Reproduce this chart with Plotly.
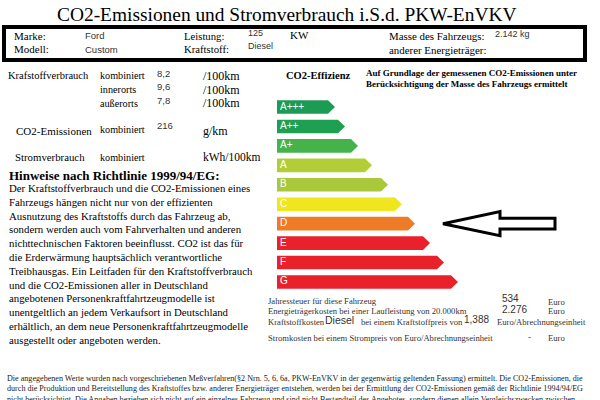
import plotly.graph_objs as go

# vehicle data
brand = "Ford"
model = "Custom"
power_kw = "125"
fuel_type = "Diesel"
mass = "2.142 kg"

consumption_labels = ["kombiniert", "innerorts", "außerorts"]
consumption_values = ["8,2", "9,6", "7,8"]
co2_value = "216"

classes = ["A+++", "A++", "A+", "A", "B", "C", "D", "E", "F", "G"]
bar_lengths = [51, 61, 74, 88, 104, 118, 131, 146, 160, 174]
selected_class = "D"

tax = "534"
energy_cost = "2.276"
fuel_price = "1,388"

colors = ["#1c9b55", "#1f9f52", "#45b34a", "#b3cd38", "#a9c83a",
          "#efe61f", "#ee7b26", "#e8212b", "#e8212b", "#e8212b"]

SERIF = "Liberation Serif, Times New Roman, serif"
SANS = "Liberation Sans, Arial, sans-serif"


def px(x, y):
    return x / 600, 1 - y / 400


def txt(x, y, s, size=11, font=SERIF, color="black", anchor="left", bold=False):
    xx, yy = px(x, y)
    if bold:
        s = "<b>" + s + "</b>"
    return dict(x=xx, y=yy, xref="paper", yref="paper", text=s, showarrow=False,
                xanchor=anchor, yanchor="middle", borderpad=0,
                font=dict(family=font, size=size, color=color))


fig = go.Figure()

# label bars with arrow tips
half = 0.35
tip = 7
for i, (c, L) in enumerate(zip(classes, bar_lengths)):
    fig.add_trace(go.Scatter(
        x=[0, L, L + tip, L, 0, 0],
        y=[i - half, i - half, i, i + half, i + half, i - half],
        fill="toself", fillcolor=colors[i], mode="lines",
        line=dict(width=0, color=colors[i]), hoverinfo="skip", showlegend=False))

fig.add_trace(go.Scatter(
    x=[3] * len(classes), y=list(range(len(classes))), text=classes, mode="text",
    textposition="middle right", textfont=dict(family=SANS, size=10, color="white"),
    hoverinfo="skip", showlegend=False))

# pointer arrow to the selected class
k = classes.index(selected_class)
fig.add_shape(type="path",
              path=f"M166,{k} L223,{k - 0.62} L223,{k - 0.28} L278,{k - 0.28} "
                   f"L278,{k + 0.28} L223,{k + 0.28} L223,{k + 0.62} Z",
              xref="x", yref="y", line=dict(color="black", width=3), fillcolor="white")

ann = []
ann.append(txt(286, 14, "CO2-Emissionen und Stromverbrauch i.S.d. PKW-EnVKV", size=19.4, anchor="center"))

# header box
ann += [
    txt(13, 36, "Marke:"), txt(13, 49, "Modell:"),
    txt(84, 36, brand, size=9.5, font=SANS, color="#333"),
    txt(84, 49, model, size=9.5, font=SANS, color="#333"),
    txt(183, 36, "Leistung:", size=10.7), txt(183, 49, "Kraftstoff:", size=10.7),
    txt(247, 33, power_kw, size=9, font=SANS, color="#333"),
    txt(247, 46, fuel_type, size=9, font=SANS, color="#333"),
    txt(289, 35, "KW"),
    txt(388, 36, "Masse des Fahrzeugs:", size=10.9), txt(388, 50, "anderer Energieträger:", size=10.9),
    txt(494, 34, mass, size=9, font=SANS, color="#333"),
]

# consumption block
ann.append(txt(7, 76, "Krafstoffverbrauch", size=10.5))
for j, (lab, val) in enumerate(zip(consumption_labels, consumption_values)):
    y = 76 + 13.5 * j
    ann.append(txt(99, y, lab, size=10.2))
    ann.append(txt(156, y - 3, val, size=9.5, font=SANS, color="#333"))
    ann.append(txt(202, y, "/100km", size=12))
ann += [
    txt(15, 131, "CO2-Emissionen", size=11), txt(99, 130, "kombiniert", size=10.2),
    txt(156, 125, co2_value, size=9.5, font=SANS, color="#333"), txt(202, 131, "g/km", size=12),
    txt(14, 157, "Stromverbrauch", size=10.8), txt(99, 157, "kombiniert", size=10.2),
    txt(202, 157, "kWh/100km", size=11.5),
]

# notes
ann.append(txt(8, 176, "Hinweise nach Richtlinie 1999/94/EG:", size=13, bold=True))
notes = [
    "Der Kraftstoffverbrauch und die CO2-Emissionen eines",
    "Fahrzeugs hängen nicht nur von der effizienten",
    "Ausnutzung des Kraftstoffs durch das Fahrzeug ab,",
    "sondern werden auch vom Fahrverhalten und anderen",
    "nichttechnischen Faktoren beeinflusst. CO2 ist das für",
    "die Erderwärmung hauptsächlich verantwortliche",
    "Treibhausgas. Ein Leitfaden für den Kraftstoffverbrauch",
    "und die CO2-Emissionen aller in Deutschland",
    "angebotenen Personenkraftfahrtzeugmodelle ist",
    "unentgeltlich an jedem Verkaufsort in Deutschland",
    "erhältlich, an dem neue Personenkraftfahrtzeugmodelle",
    "ausgestellt oder angeboten werden.",
]
for j, line in enumerate(notes):
    ann.append(txt(8, 188 + 13.8 * j, line, size=10.8))

# efficiency header
ann.append(txt(285, 75, "CO2-Effizienz", size=10.5, bold=True))
ann.append(txt(365, 73, "Auf Grundlage der gemessenen CO2-Emissionen unter", size=9, bold=True))
ann.append(txt(365, 84, "Berücksichtigung der Masse des Fahrzeugs ermittelt", size=9, bold=True))

# costs
small = 8.6
ann += [
    txt(267, 301, "Jahressteuer für diese Fahrzeug", size=small, color="#333"),
    txt(501, 298, tax, size=10, font=SANS, color="#333"), txt(547, 302, "Euro", size=small, color="#333"),
    txt(267, 311, "Energieträgerkosten bei einer Laufleistung von 20.000km", size=small, color="#333"),
    txt(501, 309, energy_cost, size=10, font=SANS, color="#333"), txt(547, 311, "Euro", size=small, color="#333"),
    txt(267, 322, "Kraftstoffkosten", size=small, color="#333"),
    txt(360, 322, "bei einem Kraftstoffpreis von", size=small, color="#333"),
    txt(496, 322, "Euro/Abrechnungseinheit", size=small, color="#333"),
    txt(324, 320, fuel_type, size=10.5, font=SANS, color="#333"),
    txt(463, 319, fuel_price, size=10, font=SANS, color="#333"),
    txt(267, 338, "Stromkosten bei einem Strompreis von Euro/Abrechnungseinheit", size=small, color="#333"),
    txt(527, 337, "-", size=9, color="#333"), txt(547, 338, "Euro", size=small, color="#333"),
]

footer = [
    "Die angegebenen Werte wurden nach vorgeschriebenen Meßverfahren(§2 Nrn. 5, 6, 6a, PKW-EnVKV in der gegenwärtig geltenden Fassung) ermittelt. Die CO2-Emissionen, die",
    "durch die Produktion und Bereitstellung des Kraftstoffes bzw. anderer Energieträger entstehen, werden bei der Ermittlung der CO2-Emissionen gemäß der Richtlinie 1994/94/EG",
    "nicht berücksichtigt. Die Angaben beziehen sich nicht auf ein einzelnes Fahrzeug und sind nicht Bestandteil des Angebotes, sondern dienen allein Vergleichszwecken zwischen",
]
for j, line in enumerate(footer):
    ann.append(txt(6, 378 + 10.5 * j, line, size=8.1, color="#222"))

# box around vehicle data
x0, y0 = px(4, 27)
x1, y1 = px(585, 60)
fig.add_shape(type="rect", xref="paper", yref="paper", x0=x0, y0=y1, x1=x1, y1=y0,
              line=dict(color="black", width=4))

fig.update_layout(
    width=600, height=400, margin=dict(l=0, r=0, t=0, b=0),
    paper_bgcolor="white", plot_bgcolor="white",
    annotations=ann,
    xaxis=dict(domain=[277 / 600, 1], range=[0, 323], visible=False, fixedrange=True),
    yaxis=dict(domain=[1 - 291.7 / 400, 1 - 97.3 / 400], range=[9.5, -0.5], visible=False, fixedrange=True),
)

fig.write_html("out.html", config={"displayModeBar": False},
               post_script="document.body.style.margin='0px';")
